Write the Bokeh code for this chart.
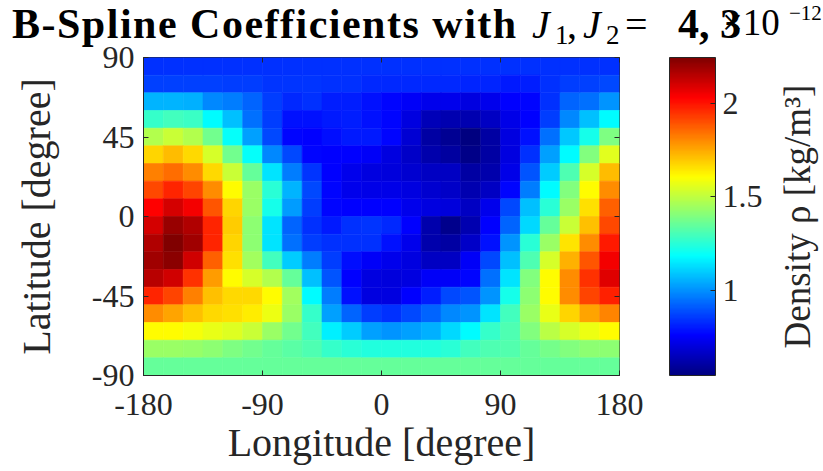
import numpy as np
from bokeh.plotting import figure
from bokeh.layouts import column, row
from bokeh.models import (Range1d, LinearColorMapper, ColorBar, FixedTicker, LinearAxis,
                          Label, ColumnDataSource, Div)
from bokeh.embed import file_html
from bokeh.resources import INLINE

# ---------------- data (density in units of 1e-12 kg/m^3) ----------------
lon_centers = [-172.5, -157.5, -142.5, -127.5, -112.5, -97.5, -82.5, -67.5,
               -52.5, -37.5, -22.5, -7.5, 7.5, 22.5, 37.5, 52.5,
               67.5, 82.5, 97.5, 112.5, 127.5, 142.5, 157.5, 172.5]
lat_centers = [85, 75, 65, 55, 45, 35, 25, 15, 5, -5, -15, -25, -35, -45, -55, -65, -75, -85]

rho_lat_p85 = [0.84]*24
rho_lat_p75 = [0.87, 0.87, 0.87, 0.87, 0.86, 0.86, 0.85, 0.85, 0.85, 0.84, 0.84, 0.83,
               0.83, 0.83, 0.83, 0.83, 0.82, 0.82, 0.80, 0.81, 0.84, 0.86, 0.87, 0.88]
rho_lat_p65 = [1.06, 1.06, 1.05, 0.99, 0.97, 0.93, 0.86, 0.83, 0.84, 0.81, 0.81, 0.79,
               0.77, 0.75, 0.73, 0.73, 0.71, 0.73, 0.76, 0.77, 0.84, 0.93, 0.95, 1.01]
rho_lat_p55 = [1.27, 1.29, 1.28, 1.18, 1.08, 0.95, 0.86, 0.79, 0.79, 0.80, 0.81, 0.79,
               0.77, 0.71, 0.64, 0.63, 0.63, 0.66, 0.72, 0.76, 0.86, 0.99, 1.08, 1.18]
rho_lat_p45 = [1.48, 1.52, 1.48, 1.37, 1.19, 1.03, 0.88, 0.77, 0.76, 0.78, 0.80, 0.80,
               0.77, 0.69, 0.61, 0.58, 0.55, 0.61, 0.71, 0.79, 0.95, 1.09, 1.22, 1.39]
rho_lat_p35 = [1.68, 1.72, 1.67, 1.54, 1.37, 1.19, 0.99, 0.88, 0.77, 0.76, 0.76, 0.75,
               0.71, 0.67, 0.62, 0.60, 0.56, 0.61, 0.71, 0.84, 1.03, 1.18, 1.40, 1.56]
rho_lat_p25 = [1.82, 1.85, 1.80, 1.67, 1.52, 1.35, 1.14, 0.97, 0.85, 0.76, 0.73, 0.71,
               0.70, 0.68, 0.66, 0.66, 0.61, 0.62, 0.72, 0.90, 1.10, 1.31, 1.54, 1.72]
rho_lat_p15 = [1.91, 1.97, 1.92, 1.80, 1.61, 1.44, 1.25, 1.06, 0.88, 0.77, 0.73, 0.72,
               0.72, 0.71, 0.68, 0.67, 0.63, 0.66, 0.77, 0.97, 1.18, 1.40, 1.61, 1.80]
rho_lat_p05 = [2.03, 2.10, 2.05, 1.89, 1.68, 1.44, 1.22, 1.02, 0.86, 0.77, 0.76, 0.76,
               0.76, 0.73, 0.71, 0.70, 0.66, 0.73, 0.88, 1.08, 1.25, 1.44, 1.66, 1.87]
rho_lat_m05 = [2.10, 2.20, 2.16, 1.97, 1.69, 1.42, 1.14, 0.93, 0.84, 0.80, 0.84, 0.85,
               0.83, 0.76, 0.62, 0.57, 0.63, 0.76, 0.93, 1.12, 1.35, 1.52, 1.71, 1.91]
rho_lat_m15 = [2.16, 2.25, 2.19, 1.97, 1.68, 1.42, 1.14, 0.95, 0.86, 0.84, 0.84, 0.84,
               0.79, 0.73, 0.62, 0.61, 0.67, 0.79, 1.01, 1.25, 1.44, 1.65, 1.80, 1.99]
rho_lat_m25 = [2.19, 2.22, 2.11, 1.87, 1.66, 1.45, 1.29, 1.10, 0.97, 0.86, 0.78, 0.75,
               0.73, 0.71, 0.66, 0.66, 0.75, 0.88, 1.08, 1.31, 1.54, 1.74, 1.89, 2.05]
rho_lat_m35 = [2.15, 2.11, 1.95, 1.77, 1.61, 1.54, 1.48, 1.35, 1.08, 0.90, 0.76, 0.71,
               0.70, 0.71, 0.75, 0.75, 0.77, 0.95, 1.14, 1.40, 1.61, 1.80, 1.95, 2.08]
rho_lat_m45 = [1.97, 1.92, 1.82, 1.71, 1.67, 1.67, 1.61, 1.45, 1.18, 0.97, 0.79, 0.71,
               0.71, 0.76, 0.81, 0.88, 0.90, 1.01, 1.22, 1.42, 1.61, 1.80, 1.92, 1.98]
rho_lat_m55 = [1.80, 1.76, 1.71, 1.67, 1.66, 1.64, 1.58, 1.44, 1.27, 1.03, 0.93, 0.86,
               0.84, 0.88, 0.93, 0.99, 1.01, 1.14, 1.29, 1.44, 1.57, 1.68, 1.76, 1.81]
rho_lat_m65 = [1.61, 1.61, 1.59, 1.57, 1.55, 1.52, 1.44, 1.37, 1.29, 1.16, 1.10, 1.03,
               1.01, 1.03, 1.05, 1.12, 1.18, 1.27, 1.31, 1.40, 1.49, 1.54, 1.58, 1.61]
rho_lat_m75 = [1.44, 1.44, 1.43, 1.42, 1.39, 1.37, 1.35, 1.33, 1.31, 1.27, 1.25, 1.24,
               1.24, 1.24, 1.24, 1.25, 1.29, 1.31, 1.32, 1.35, 1.38, 1.40, 1.42, 1.42]
rho_lat_m85 = [1.35]*24

density_rows = [rho_lat_p85, rho_lat_p75, rho_lat_p65, rho_lat_p55, rho_lat_p45, rho_lat_p35,
                rho_lat_p25, rho_lat_p15, rho_lat_p05, rho_lat_m05, rho_lat_m15, rho_lat_m25,
                rho_lat_m35, rho_lat_m45, rho_lat_m55, rho_lat_m65, rho_lat_m75, rho_lat_m85]

x_ticks = [-180, -90, 0, 90, 180]
y_ticks = [-90, -45, 0, 45, 90]
cbar_ticks = [1, 1.5, 2]
cbar_low, cbar_high = 0.545, 2.246

# ---------------- build ----------------
lon, lat, rho = [], [], []
for la, rw in zip(lat_centers, density_rows):
    for lo, v in zip(lon_centers, rw):
        lon.append(lo); lat.append(la); rho.append(v)
src = ColumnDataSource(dict(lon=lon, lat=lat, rho=rho))

def jet(t):
    r = min(max(1.5 - abs(4 * t - 3), 0), 1)
    g = min(max(1.5 - abs(4 * t - 2), 0), 1)
    b = min(max(1.5 - abs(4 * t - 1), 0), 1)
    return "#%02x%02x%02x" % (int(round(r * 255)), int(round(g * 255)), int(round(b * 255)))

palette = [jet(t) for t in np.linspace(0, 1, 256)]
mapper = LinearColorMapper(palette=palette, low=cbar_low, high=cbar_high)

SERIF = "Liberation Serif"
INK = "#262626"

W, H = 823, 471
TOP_H = 48                 # title strip height (figures are drawn over it, transparent)
MAIN_W = 645               # width of heatmap figure
FL, FT, FR, FB = 143, 57, 619, 375   # frame edges in page px

# ---- title strip (HTML text, absolutely positioned pieces) ----
def span(text, left, baseline, size, weight="normal", style="normal", spacing=0):
    top = baseline - 0.8375 * size          # Liberation Serif, line-height 1
    return ('<span style="position:absolute;left:%dpx;top:%.1fpx;font-size:%dpx;'
            'line-height:%dpx;font-weight:%s;font-style:%s;letter-spacing:%.1fpx;'
            'white-space:nowrap;">%s</span>'
            % (left, top, size, size, weight, style, spacing, text))

title_html = ('<div style="position:relative;width:%dpx;height:%dpx;overflow:visible;'
              'font-family:\'Liberation Serif\';color:black;">' % (W, TOP_H)
              + span("B-Spline Coefficients with", 12, 38, 42, "bold", spacing=1.5)
              + span("J", 532, 38, 40, style="italic")
              + span("1", 555, 45, 27)
              + span(",", 567, 38, 40)
              + span("J", 583, 38, 40, style="italic")
              + span("2", 606, 45, 27)
              + span("=", 625, 38, 40)
              + span("4, 3", 678, 38, 42, "bold")
              + span("\u00d710", 722, 35, 37)
              + span("\u221212", 789, 21, 21)
              + '</div>')
title_div = Div(text=title_html, width=W, height=TOP_H, margin=(0, 0, -TOP_H, 0))

# ---- heatmap ----
p = figure(width=MAIN_W, height=H, x_range=Range1d(-180, 180), y_range=Range1d(-90, 90),
           output_backend="svg", toolbar_location=None,
           min_border_left=FL, min_border_top=FT, min_border_right=MAIN_W - FR,
           min_border_bottom=H - FB)
p.grid.visible = False
p.outline_line_color = INK
p.outline_line_width = 1
p.border_fill_color = None

p.rect(x="lon", y="lat", width=15, height=10, source=src,
       fill_color={"field": "rho", "transform": mapper},
       line_color={"field": "rho", "transform": mapper}, line_width=0.6)

for ax, ticks in ((p.xaxis[0], x_ticks), (p.yaxis[0], y_ticks)):
    ax.ticker = FixedTicker(ticks=ticks)
    ax.major_label_overrides = {t: str(t) for t in ticks}
    ax.major_tick_in = 5
    ax.major_tick_out = 0
    ax.minor_tick_line_color = None
    ax.axis_line_color = INK
    ax.major_tick_line_color = INK
    ax.major_label_text_font = SERIF
    ax.major_label_text_font_size = "32px"
    ax.major_label_text_color = INK
    ax.axis_label_text_font = SERIF
    ax.axis_label_text_font_size = "40px"
    ax.axis_label_text_font_style = "normal"
    ax.axis_label_text_color = INK

p.xaxis.axis_label = "Longitude [degree]"
p.yaxis.axis_label = "Latitude [degree]"
p.xaxis.major_label_standoff = 18
p.yaxis.major_label_standoff = 9
p.xaxis.axis_label_standoff = 2
p.yaxis.axis_label_standoff = 30

for side, ticks in (("above", x_ticks), ("right", y_ticks)):
    ax = LinearAxis(ticker=FixedTicker(ticks=ticks), major_tick_in=5, major_tick_out=0,
                    minor_tick_line_color=None, axis_line_color=None,
                    major_tick_line_color=INK, major_label_text_color=None,
                    major_label_standoff=0)
    p.add_layout(ax, side)

# ---- colour bar strip (its frame is aligned with the heatmap frame vertically) ----
CW = W - MAIN_W
pc = figure(width=CW, height=H, x_range=Range1d(0, CW), y_range=Range1d(0, H),
            output_backend="svg", toolbar_location=None, min_border=0,
            x_axis_location=None, y_axis_location=None)
pc.grid.visible = False
pc.outline_line_color = None
pc.border_fill_color = None
pc.background_fill_color = None

cb = ColorBar(color_mapper=mapper, ticker=FixedTicker(ticks=cbar_ticks),
              width=46, height=FB - FT, location=(669 - MAIN_W, 0), margin=0, padding=0,
              major_label_text_font=SERIF, major_label_text_font_size="32px",
              major_label_text_color=INK, major_tick_in=5, major_tick_out=0,
              major_tick_line_color=INK, minor_tick_line_color=None,
              bar_line_color=INK, label_standoff=7, background_fill_color=None)
pc.add_layout(cb, "center")

pc.add_layout(Label(x=797 - MAIN_W, y=FB - 216, x_units="screen", y_units="screen",
                    text="Density \u03c1 [kg/m\u00b3]", text_font=SERIF, text_font_size="37px",
                    text_align="center", text_baseline="middle", text_color=INK,
                    angle=90, angle_units="deg"))

layout = column(title_div, row(p, pc))
open("out.html", "w").write(file_html(layout, INLINE))
